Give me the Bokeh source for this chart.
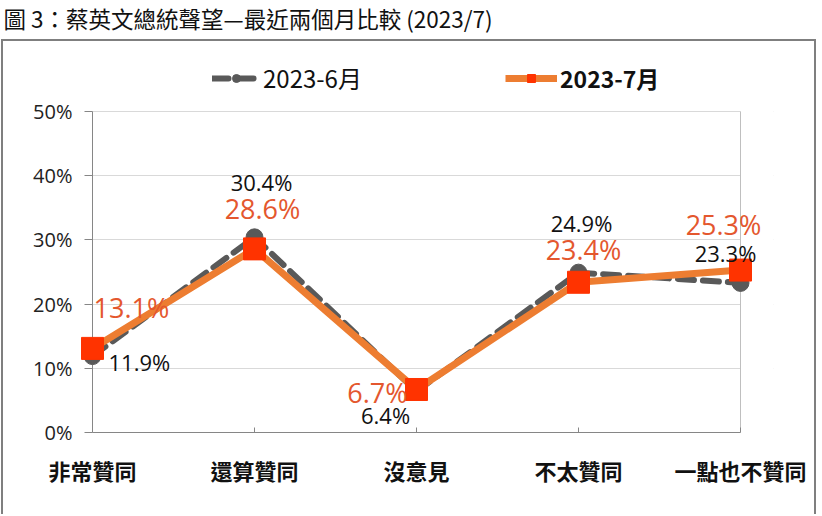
from bokeh.plotting import figure
from bokeh.layouts import column
from bokeh.models import (ColumnDataSource, Label, Legend, LegendItem, FixedTicker,
                          BoxAnnotation)
from bokeh.core.properties import value
from bokeh.embed import file_html
from bokeh.resources import INLINE

# ---- data ----
categories = ["非常贊同", "還算贊同", "沒意見", "不太贊同", "一點也不贊同"]
june = [11.9, 30.4, 6.4, 24.9, 23.3]
july = [13.1, 28.6, 6.7, 23.4, 25.3]
series_names = ["2023-6月", "2023-7月"]
y_ticks = [0, 10, 20, 30, 40, 50]
title_text = "圖 3：蔡英文總統聲望—最近兩個月比較 (2023/7)"

# label placement (styling, screen px; dy positive = downward)
june_dx = [16, 7, -31, 3, -15]
june_dy = [6, -55, 24, -50, -30]
june_align = ["left", "center", "center", "center", "center"]
july_dx = [1, 8, -9, 5, -17]
july_dy = [-41, -40, 3, -33, -46]
july_align = ["left", "center", "right", "center", "center"]

xs = list(range(len(categories)))

# ---- geometry (canvas px) ----
TH = 39
W, H = 815, 516 - TH - 2
frame_left, axis_left, axis_right, frame_right = 77, 89, 737, 770
frame_top, frame_y50, frame_y0 = 15, 70, 391
px_per_cat = (axis_right - axis_left) / (xs[-1] - xs[0])
y_end = y_ticks[-1] * (frame_y0 - frame_top) / (frame_y0 - frame_y50)
x_end = xs[-1] + (frame_right - axis_right) / px_per_cat
x_start = xs[0] - (axis_left - frame_left) / px_per_cat
gap = axis_left - frame_left

# ---- title strip ----
ft = figure(width=822, height=TH, output_backend="svg", toolbar_location=None,
            x_axis_type=None, y_axis_type=None, min_border=0,
            x_range=(0, 1), y_range=(0, 1))
if "frame_align" in ft.properties():
    ft.frame_align = False
ft.outline_line_color = None
ft.grid.visible = False
ft.add_layout(Label(x=3, y=TH - 17, x_units="screen", y_units="screen",
                    text=title_text, text_font="Noto Sans CJK TC",
                    text_font_size="22.5px", text_baseline="middle",
                    text_color="#111111"))

# ---- main chart ----
p = figure(width=W, height=H, output_backend="svg", toolbar_location=None,
           x_range=(x_start, x_end), y_range=(y_ticks[0], y_end),
           min_border_left=frame_left, min_border_right=W - frame_right,
           min_border_top=frame_top, min_border_bottom=H - frame_y0,
           margin=(0, 0, 0, 1))
if "frame_align" in p.properties():
    p.frame_align = False
p.styles = {"border-top": "2px solid #7F7F7F", "border-left": "2px solid #7F7F7F",
            "border-right": "2px solid #7F7F7F"}
p.background_fill_color = "white"
p.border_fill_color = "white"
p.outline_line_color = None

# axes
p.xaxis.ticker = FixedTicker(ticks=xs)
p.xaxis.bounds = (xs[0], xs[-1])
p.xaxis.major_label_overrides = {i: c for i, c in enumerate(categories)}
p.xaxis.major_tick_in = 5
p.xaxis.major_tick_out = 0
p.xaxis.minor_tick_line_color = None
p.xaxis.axis_line_color = "#868686"
p.xaxis.major_tick_line_color = "#868686"
p.xaxis.major_label_text_font = "Noto Sans CJK TC"
p.xaxis.major_label_text_font_size = "22px"
p.xaxis.major_label_text_font_style = "bold"
p.xaxis.major_label_text_color = "#111111"
p.xaxis.major_label_standoff = 21

p.yaxis.ticker = FixedTicker(ticks=y_ticks)
p.yaxis.bounds = (y_ticks[0], y_ticks[-1])
p.yaxis.major_label_overrides = {t: f"{t}%" for t in y_ticks}
p.yaxis.major_tick_in = gap
p.yaxis.major_tick_out = 8 - gap
p.yaxis.minor_tick_line_color = None
p.yaxis.axis_line_color = None
p.yaxis.major_tick_line_color = "#868686"
p.yaxis.major_label_text_font = "Open Sans"
p.yaxis.major_label_text_font_size = "20px"
p.yaxis.major_label_text_color = "#222222"
p.yaxis.major_label_standoff = 8

p.xgrid.grid_line_color = None
p.ygrid.grid_line_color = "#D9D9D9"
p.ygrid.ticker = FixedTicker(ticks=y_ticks)

# hide grid outside the plot area (first..last category)
p.add_layout(BoxAnnotation(left=xs[-1], fill_color="white", fill_alpha=1,
                           line_color=None, level="underlay"))
p.add_layout(BoxAnnotation(right=xs[0], fill_color="white", fill_alpha=1,
                           line_color=None, level="underlay"))
# y axis line at the first category, plot-area right border at the last
p.segment(x0=[xs[0]], y0=[y_ticks[0]], x1=[xs[0]], y1=[y_ticks[-1]],
          line_color="#868686", line_width=1)
p.segment(x0=[xs[-1]], y0=[y_ticks[0]], x1=[xs[-1]], y1=[y_ticks[-1]],
          line_color="#BFBFBF", line_width=1)

# series
src_j = ColumnDataSource(dict(x=xs, y=june, t=[f"{v}%" for v in june],
                              dx=june_dx, dy=june_dy, al=june_align))
src_l = ColumnDataSource(dict(x=xs, y=july, t=[f"{v}%" for v in july],
                              dx=july_dx, dy=july_dy, al=july_align))

lj = p.line("x", "y", source=src_j, line_color="#595959", line_width=6,
            line_dash="16 9", line_cap="round")
mj = p.scatter("x", "y", source=src_j, marker="circle", size=17,
               fill_color="#595959", line_color="#595959")
ll = p.line("x", "y", source=src_l, line_color="#ED7D31", line_width=7)
ml = p.scatter("x", "y", source=src_l, marker="square", size=22,
               fill_color="#FF3300", line_color="#FF3300")

p.text("x", "y", text="t", source=src_j, x_offset="dx", y_offset="dy",
       text_align="al", text_baseline="middle", text_font=value("Open Sans"),
       text_font_size="22px", text_color="#111111")
p.text("x", "y", text="t", source=src_l, x_offset="dx", y_offset="dy",
       text_align="al", text_baseline="middle", text_font=value("Open Sans"),
       text_font_size="27px", text_color="#E4572E")

# legends (location measured from the frame's bottom-left)
leg1 = Legend(items=[LegendItem(label=series_names[0], renderers=[lj, mj])],
              location=(gap + 120, 337), glyph_width=48, glyph_height=20,
              label_standoff=3, padding=0, margin=0, border_line_color=None,
              background_fill_alpha=0, label_text_font="Noto Sans CJK TC",
              label_text_font_size="24px", label_text_color="#111111")
leg2 = Legend(items=[LegendItem(label=series_names[1], renderers=[ll, ml])],
              location=(gap + 413, 337), glyph_width=52, glyph_height=20,
              label_standoff=3, padding=0, margin=0, border_line_color=None,
              background_fill_alpha=0, label_text_font="Noto Sans CJK TC",
              label_text_font_size="23px", label_text_font_style="bold",
              label_text_color="#111111")
p.add_layout(leg1, "center")
p.add_layout(leg2, "center")

layout = column(ft, p, spacing=0)
open("out.html", "w").write(file_html(layout, INLINE))
